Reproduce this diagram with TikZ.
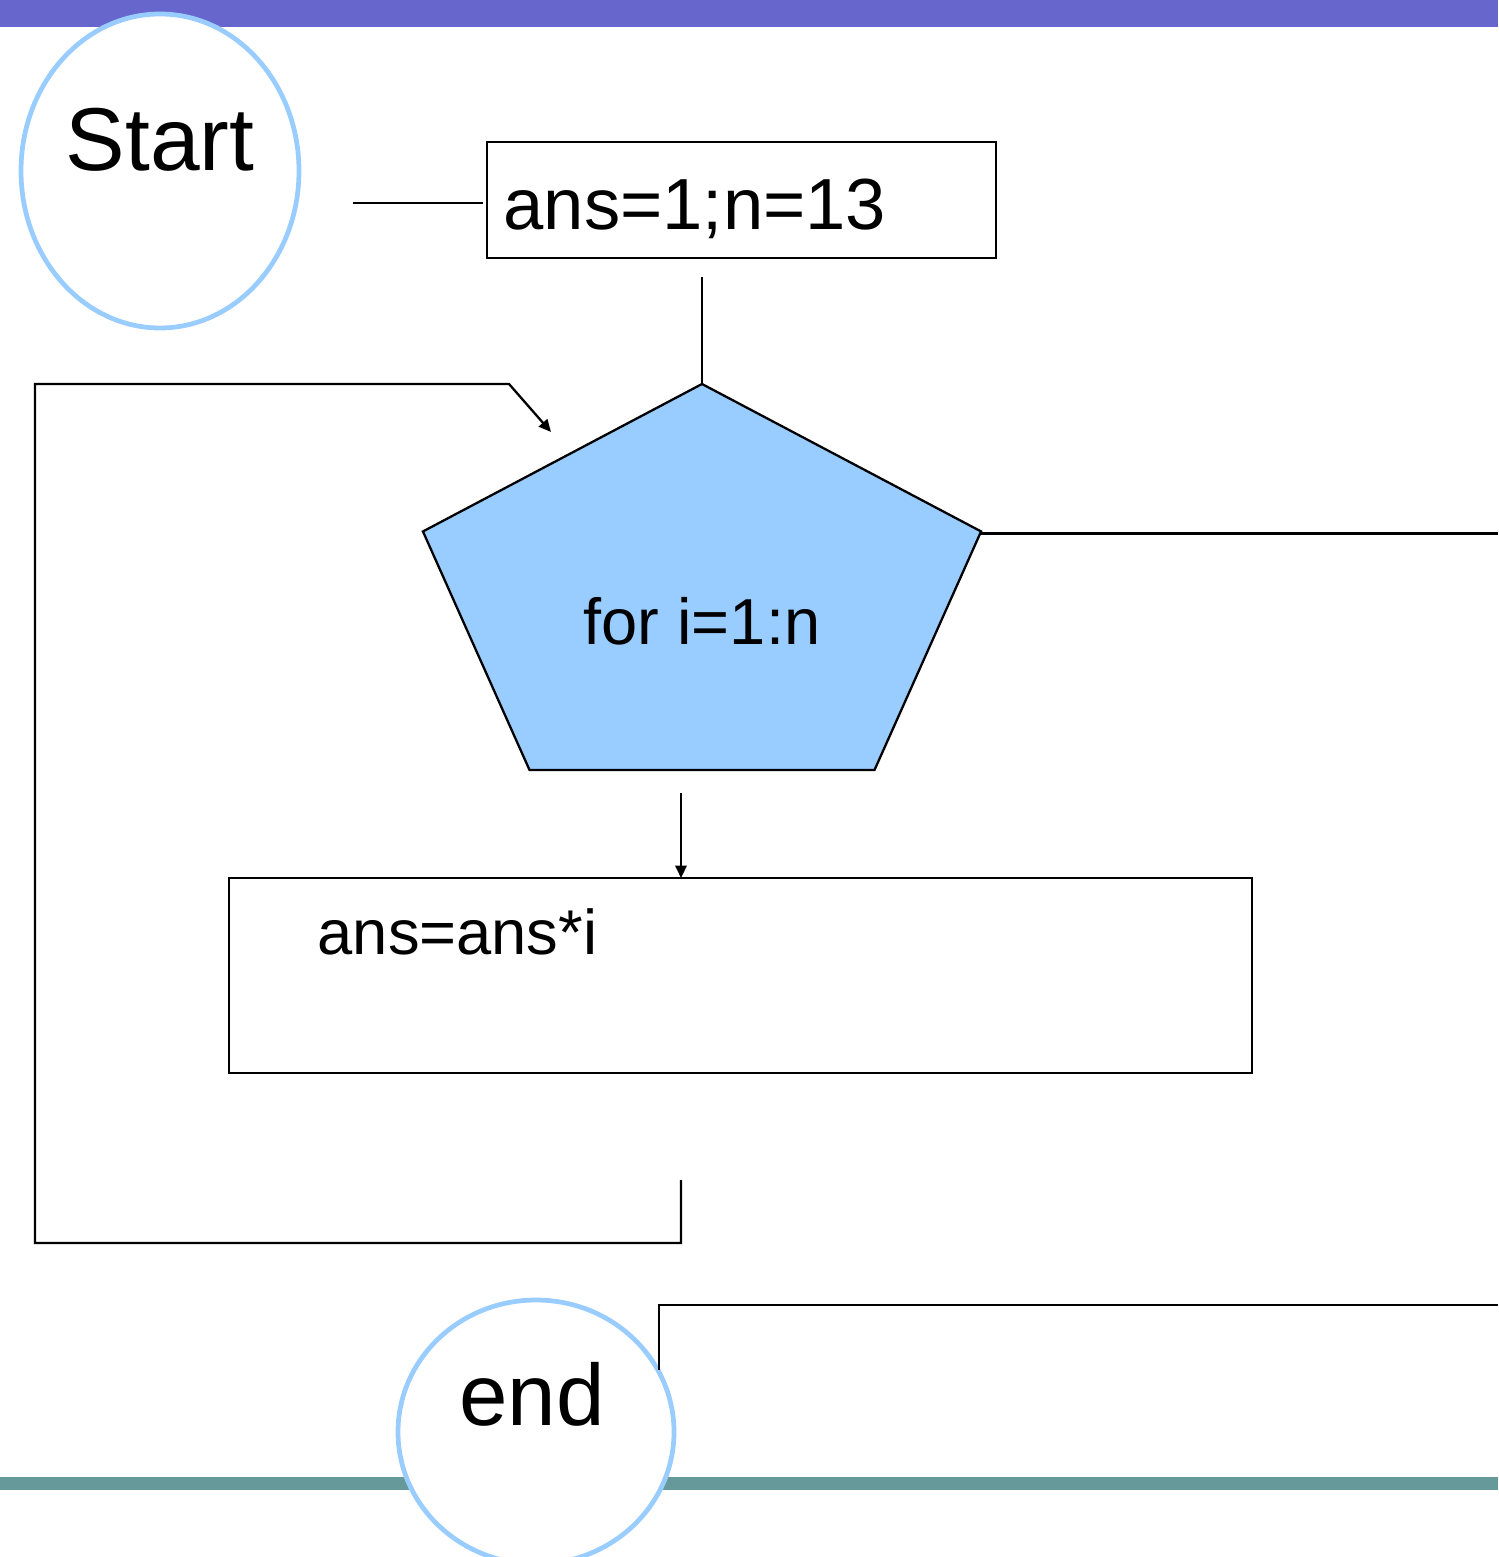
\documentclass[tikz,border=0pt]{standalone}
\usepackage{fontspec}
\setmainfont{Liberation Sans}
\usetikzlibrary{arrows.meta, positioning, calc, shapes.geometric}

\definecolor{barpurple}{HTML}{6666CC}
\definecolor{barteal}{HTML}{669999}
\definecolor{termblue}{HTML}{99CCFF}

\begin{document}
\begin{tikzpicture}[
    terminal/.style={draw=termblue, line width=1.35pt, fill=white, ellipse, inner sep=0pt, outer sep=0pt},
    box/.style={draw, line width=0.65pt, rectangle, inner sep=0pt, outer sep=0pt},
    loophead/.style={draw, line width=0.65pt, fill=termblue, regular polygon, regular polygon sides=5, inner sep=0pt, outer sep=0pt, minimum size=4.268cm},
    wire/.style={line width=0.65pt},
    arr/.style={wire, -{Triangle[length=3.5pt, width=3.2pt]}},
    lbl/.style={font=\fontsize{#1}{#1}\selectfont, inner sep=0pt}
]
\useasboundingbox (0,0) rectangle (14.98,-15.57);

% --- Slide bars ---
\fill[barpurple] (0,0) rectangle (14.98,-0.27);
\fill[barteal] (0,-14.77) rectangle (14.98,-14.90);

% --- Start / init ---
\node[terminal, minimum width=2.78cm, minimum height=3.14cm] (start) at (1.60,-1.71) {};
\node[lbl=25.4pt, anchor=base] at (start.center) {Start};

\node[box, minimum width=5.09cm, minimum height=1.16cm] (init) at (7.415,-2.00) {};
\node[lbl=20.6pt, anchor=base west] at ([shift={(0.16,-0.30)}]init.west) {ans=1;n=13};

\draw[wire, shorten <=0.54cm, shorten >=0.04cm] ([yshift=-0.3mm]start.east |- init.west) -- ([yshift=-0.3mm]init.west);

% --- Loop head (stretched pentagon) ---
\begin{scope}[shift={(7.02,-5.974)}, xscale=1.375]
  \node[loophead, transform shape] (loop) at (0,0) {};
\end{scope}
\node[lbl=18.5pt, anchor=base] at ([yshift=-4.7mm]loop.center) {for i=1:n};

\draw[wire, shorten <=0.19cm] (init.south -| loop.corner 1) -- (loop.corner 1);

% exit to the right
\coordinate (exitR) at (14.98,-5.34);
\draw[wire] ([yshift=-0.2mm]loop.corner 5) -- ([yshift=-0.2mm]loop.corner 5 -| exitR);

% --- Loop body ---
\node[box, minimum width=10.23cm, minimum height=1.95cm] (body) at (7.405,-9.755) {};
\node[lbl=18pt, anchor=base west] at ([shift={(0.88,-0.76)}]body.north west) {ans=ans*i};

\draw[arr, shorten <=0.23cm] ([xshift=-2.1mm]loop.south) -- ([xshift=-2.1mm]loop.south |- body.north);

% back edge to the loop head
\coordinate (reenter) at (5.51,-4.32);
\draw[arr, shorten <=1.07cm] ([xshift=-5.95mm]body.south) -- ++(0,-1.70) -- (0.35,-12.43) -- (0.35,-3.84) -- (5.09,-3.84) -- (reenter);

% --- End ---
\node[terminal, minimum width=2.76cm, minimum height=2.64cm] (finish) at (5.36,-14.32) {};
\node[lbl=24.8pt, anchor=base] at ([shift={(-0.04,0.07)}]finish.center) {end};

\coordinate (tail) at (14.98,-13.05);
\draw[wire, shorten <=0.62cm] ([xshift=1.23cm]finish.center) |- (tail);

\end{tikzpicture}
\end{document}
